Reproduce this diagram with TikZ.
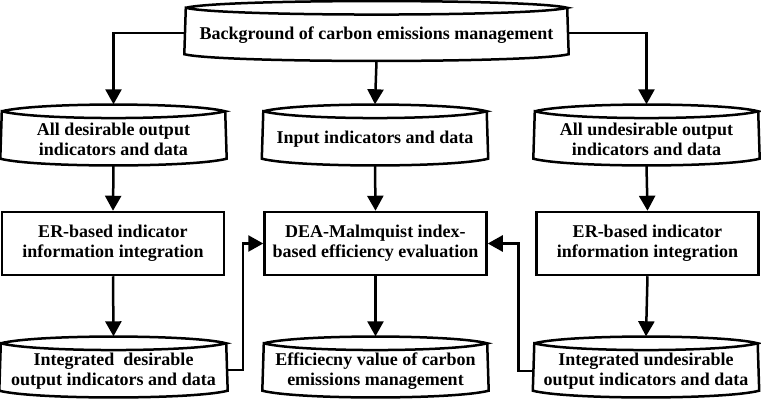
\documentclass[tikz,border=0pt]{standalone}
\usepackage{fontspec}
\setmainfont{Liberation Serif}
\usetikzlibrary{arrows.meta}
\tikzset{
  lbl/.style={font=\fontsize{18}{20}\selectfont\bfseries, align=center, inner sep=0pt},
  drum/.style={inner sep=0pt, minimum width=223pt, minimum height=61pt,
    label={[lbl, yshift=-4pt]center:{#1}}},
  plainbox/.style={lbl, draw, line width=2.5pt, minimum width=222pt, minimum height=63pt},
  arr/.style={line width=2.5pt, -{Triangle[length=15pt,width=16pt]}},
  drumline/.style={line width=2.5pt, line join=miter}
}
\newcommand{\drumshape}[1]{%
  \draw[drumline] ([yshift=-7pt]#1.north west)
    .. controls +(35pt,9pt) and +(-35pt,9pt) .. ([yshift=-7pt]#1.north east)
    .. controls +(-35pt,-9pt) and +(35pt,-9pt) .. ([yshift=-7pt]#1.north west)
    -- ([xshift=-1.5pt,yshift=7pt]#1.south west)
    .. controls +(35pt,-9pt) and +(-35pt,-9pt) .. ([xshift=1.5pt,yshift=7pt]#1.south east)
    -- ([yshift=-7pt]#1.north east);}
\begin{document}
\begin{tikzpicture}[x=1pt, y=-1pt]
        \useasboundingbox (0,0) rectangle (761,399);
        % nodes
        \node[drum={Background of carbon emissions management}, minimum width=381pt, minimum height=60pt] (A1) at (376.5, 31) {};
        \node[drum={All desirable output\\indicators and data}] (B1) at (113.5, 135) {};
        \node[drum={Input indicators and data}] (B2) at (375, 135) {};
        \node[drum={All undesirable output\\indicators and data}] (B3) at (646.5, 135) {};
        \node[plainbox] (C1) at (113, 243.5) {ER-based indicator\\information integration};
        \node[plainbox] (C2) at (375.5, 243.5) {DEA-Malmquist index-\\based efficiency evaluation};
        \node[plainbox] (C3) at (647.5, 243.5) {ER-based indicator\\information integration};
        \node[drum={Integrated~ desirable\\output indicators and data}, minimum width=225pt] (D1) at (113.5, 367) {};
        \node[drum={Efficiecny value of carbon\\emissions management}] (D2) at (375.5, 367) {};
        \node[drum={Integrated undesirable\\output indicators and data}] (D3) at (646, 367) {};
        \foreach \n in {A1,B1,B2,B3,D1,D2,D3} {\drumshape{\n}}
        % arrows
        \draw[arr] ([yshift=-2pt]A1.west) -| (B1.north);
        \draw[arr] (A1.south) -- (B2.north);
        \draw[arr] ([yshift=-2pt]A1.east) -| (B3.north);
        \draw[arr] (B1.south) -- (C1.north);
        \draw[arr] (B2.south) -- (C2.north);
        \draw[arr] (B3.south) -- (C3.north);
        \draw[arr] (C1.south) -- (D1.north);
        \draw[arr] (C2.south) -- (D2.north);
        \draw[arr] (C3.south) -- (D3.north);
        \draw[arr] ([yshift=-3pt]D1.east) -- ++(17,0) |- (C2.west);
        \draw[arr] ([yshift=-4pt]D3.west) -- ++(-16,0) |- (C2.east);
\end{tikzpicture}
\end{document}
